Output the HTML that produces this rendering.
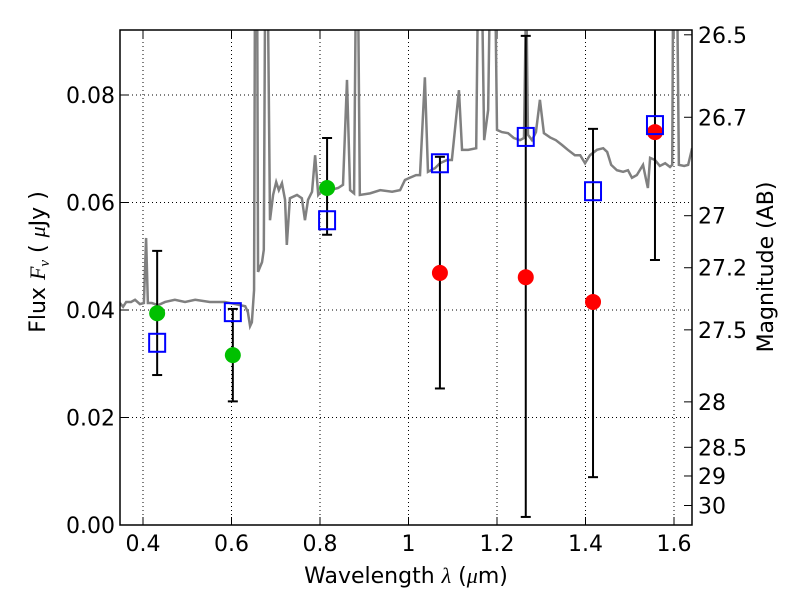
<!DOCTYPE html>
<html><head><meta charset="utf-8"><style>
body{margin:0;background:#fff;}
svg{font-family:"DejaVu Sans","Liberation Sans",sans-serif;}
</style></head><body>
<svg id="c" width="800" height="600"></svg>
<script>
const specLam=[0.348,0.355,0.362,0.373,0.382,0.393,0.402,0.407,0.411,0.420,0.434,0.450,0.472,0.495,0.518,0.551,0.585,0.608,0.631,0.637,0.642,0.646,0.651,0.653,0.658,0.660,0.669,0.673,0.676,0.682,0.687,0.694,0.701,0.707,0.714,0.721,0.725,0.732,0.748,0.759,0.766,0.773,0.782,0.789,0.796,0.805,0.823,0.841,0.852,0.861,0.868,0.877,0.881,0.886,0.890,0.913,0.936,0.963,0.981,0.992,1.003,1.017,1.026,1.037,1.044,1.060,1.071,1.087,1.098,1.114,1.121,1.135,1.153,1.157,1.166,1.171,1.180,1.184,1.196,1.200,1.211,1.225,1.238,1.252,1.261,1.266,1.270,1.279,1.288,1.297,1.306,1.320,1.333,1.347,1.360,1.376,1.388,1.399,1.410,1.426,1.440,1.449,1.458,1.471,1.485,1.496,1.505,1.516,1.530,1.537,1.541,1.546,1.557,1.568,1.580,1.591,1.596,1.598,1.607,1.611,1.623,1.632,1.641];
const specFlux=[.0413,.0406,.0415,.0415,.0419,.0411,.0413,.0534,.0413,.0413,.0409,.0415,.0419,.0415,.0419,.0415,.0415,.0411,.0407,.0396,.0370,.0377,.0437,.1,.1,.0471,.0489,.0512,.1,.1,.0567,.0614,.0638,.0623,.0636,.0605,.0521,.0608,.0614,.0608,.0567,.0605,.0620,.0688,.0614,.0623,.0623,.0627,.0633,.0828,.0623,.0617,.1,.1,.0614,.0617,.0623,.0620,.0623,.0642,.0646,.0651,.0651,.0833,.0657,.0664,.0673,.0679,.0679,.0809,.0698,.0698,.0701,.1,.1,.0716,.0772,.1,.1,.0735,.0731,.0729,.0720,.0716,.0720,.1,.0726,.0716,.0731,.0791,.0729,.0721,.0716,.0707,.0698,.0688,.0688,.0673,.0688,.0698,.0701,.0694,.0670,.0660,.0657,.0660,.0646,.0651,.0670,.0642,.0627,.0683,.0679,.0668,.0673,.0666,.0670,.1,.1,.0670,.0668,.0670,.0701];
const greenLam=[0.432,0.603,0.816];
const greenFlux=[0.0394,0.0316,0.0627];
const redLam=[1.071,1.265,1.417,1.557];
const redFlux=[0.0469,0.0461,0.0415,0.0731];
const blueLam=[0.432,0.603,0.816,1.071,1.265,1.417,1.557];
const blueFlux=[0.0339,0.0396,0.0567,0.0673,0.0722,0.0621,0.0744];
const errHi=[0.0510,0.0402,0.0720,0.0685,0.0910,0.0737,0.11];
const errLo=[0.0279,0.0230,0.0540,0.0254,0.0015,0.0089,0.0493];
const xTicks=[0.4,0.6,0.8,1.0,1.2,1.4,1.6];
const xTickLabels=["0.4","0.6","0.8","1","1.2","1.4","1.6"];
const yTicks=[0,0.02,0.04,0.06,0.08];
const yTickLabels=["0.00","0.02","0.04","0.06","0.08"];
const magTicks=[26.5,26.7,27,27.2,27.5,28,28.5,29,30];
const magTickLabels=["26.5","26.7","27","27.2","27.5","28","28.5","29","30"];

const L=120,R=692,T=30,B=525;
const X=l=>143+(l-0.4)*442.5;
const Y=f=>525-f*5375;
const svg=document.getElementById('c');
const NS='http://www.w3.org/2000/svg';
function mk(tag,at,parent){const e=document.createElementNS(NS,tag);for(const k in at)e.setAttribute(k,at[k]);(parent||svg).appendChild(e);return e;}
const defs=mk('defs',{});
const cp=mk('clipPath',{id:'clip'},defs);mk('rect',{x:L,y:T,width:R-L,height:B-T},cp);

xTicks.forEach((t,i)=>{
 const g=mk('line',{x1:X(t),x2:X(t),y1:T,y2:B,stroke:'#000','stroke-dasharray':'1,3','stroke-width':1});
 
 mk('line',{x1:X(t),x2:X(t),y1:B,y2:B-8,stroke:'#000'});
 mk('line',{x1:X(t),x2:X(t),y1:T,y2:T+8,stroke:'#000'});
 const tx=mk('text',{x:X(t),y:B+26,'text-anchor':'middle','font-size':22});tx.textContent=xTickLabels[i];
 
});
yTicks.forEach((t,i)=>{
 const g=mk('line',{x1:L,x2:R,y1:Y(t),y2:Y(t),stroke:'#000','stroke-dasharray':'1,3','stroke-width':1});
 
 mk('line',{x1:L,x2:L+8,y1:Y(t),y2:Y(t),stroke:'#000'});
 const tx=mk('text',{x:L-5,y:Y(t)+8,'text-anchor':'end','font-size':22});tx.textContent=yTickLabels[i];
 
});
magTicks.forEach((m,i)=>{
 const y=Y(Math.pow(10,(23.9-m)/2.5));
 mk('line',{x1:R,x2:R-8,y1:y,y2:y,stroke:'#000'});
 const tx=mk('text',{x:R+6,y:y+8,'font-size':22});tx.textContent=magTickLabels[i];
 
});

const sp=mk('polyline',{points:specLam.map((l,i)=>X(l)+','+Y(specFlux[i])).join(' '),fill:'none',stroke:'#808080','stroke-width':2.5,'clip-path':'url(#clip)'});


blueLam.forEach((l,i)=>{
 const g=mk('g',{'clip-path':'url(#clip)'});
 
 mk('line',{x1:X(l),x2:X(l),y1:Y(errHi[i]),y2:Y(errLo[i]),stroke:'#000','stroke-width':2},g);
 mk('line',{x1:X(l)-5,x2:X(l)+5,y1:Y(errHi[i]),y2:Y(errHi[i]),stroke:'#000','stroke-width':2},g);
 mk('line',{x1:X(l)-5,x2:X(l)+5,y1:Y(errLo[i]),y2:Y(errLo[i]),stroke:'#000','stroke-width':2},g);
});
greenLam.forEach((l,i)=>{
 const c=mk('circle',{cx:X(l),cy:Y(greenFlux[i]),r:8,fill:'#00c000'});
 
});
redLam.forEach((l,i)=>{
 const c=mk('circle',{cx:X(l),cy:Y(redFlux[i]),r:8,fill:'#ff0000'});
 
});
blueLam.forEach((l,i)=>{
 const r=mk('rect',{x:X(l)-8,y:Y(blueFlux[i])-9,width:16,height:18,fill:'none',stroke:'#0000ff','stroke-width':2});
 
});

const fr=mk('rect',{x:L,y:T,width:R-L,height:B-T,fill:'none',stroke:'#000','stroke-width':1.5});

</script>
<svg width="800" height="600" style="position:absolute;left:0;top:0;font-family:'DejaVu Sans','Liberation Sans',sans-serif">
<text x="406" y="583" text-anchor="middle" font-size="22">Wavelength  <tspan font-family="Liberation Serif" font-style="italic">λ</tspan> (<tspan font-family="Liberation Serif" font-style="italic">μ</tspan>m)</text>
<text transform="translate(45,262) rotate(-90)" text-anchor="middle" font-size="22">Flux  <tspan font-family="Liberation Serif" font-style="italic">F<tspan font-size="15" dy="4">ν</tspan></tspan><tspan dy="-4">  (  </tspan><tspan font-family="Liberation Serif" font-style="italic">μ</tspan>Jy )</text>
<text transform="translate(773,267) rotate(-90)" text-anchor="middle" font-size="22">Magnitude (AB)</text>
</svg>
</body></html>
